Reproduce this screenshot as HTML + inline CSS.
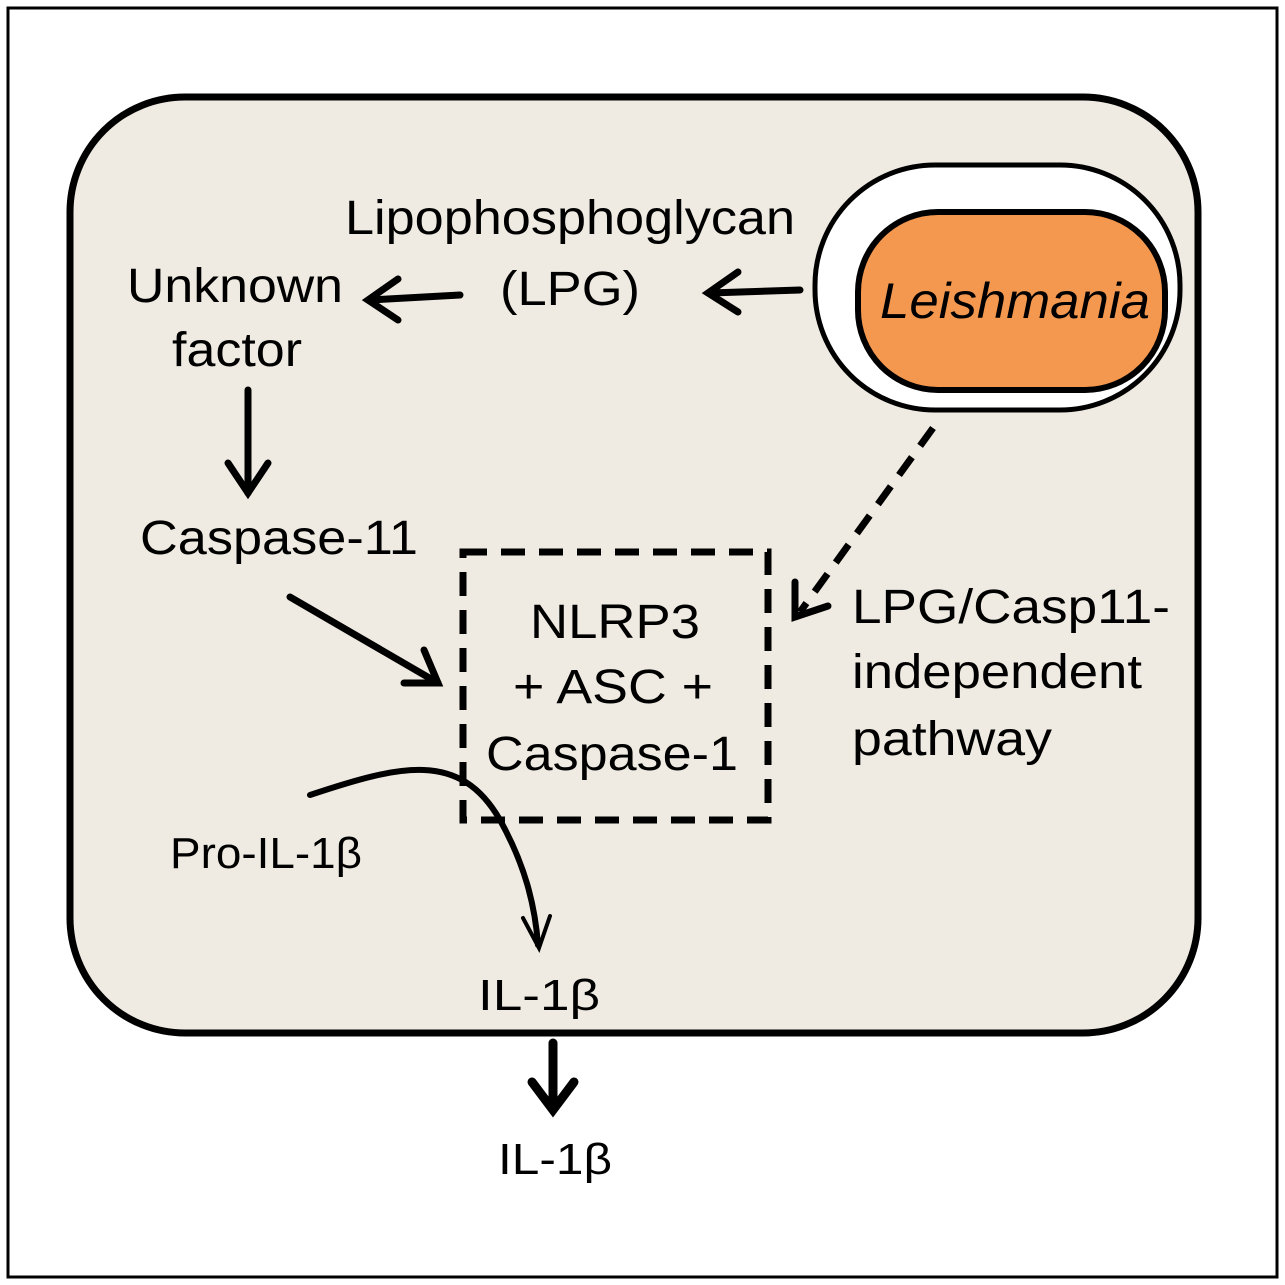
<!DOCTYPE html>
<html><head><style>
html,body{margin:0;padding:0;background:#fff;}
svg{display:block;}
text{font-family:"Liberation Sans",sans-serif;fill:#000;}
</style></head><body>
<svg width="1285" height="1285" viewBox="0 0 1285 1285" xmlns="http://www.w3.org/2000/svg">
<rect x="8" y="8" width="1269" height="1269" fill="#fff" stroke="#000" stroke-width="3"/>
<rect x="70" y="97" width="1128" height="936" rx="115" ry="115" fill="#efebe2" stroke="#000" stroke-width="7"/>
<rect x="815" y="165" width="365" height="245" rx="120" ry="120" fill="#fff" stroke="#000" stroke-width="5"/>
<rect x="858" y="212" width="307" height="178" rx="80" ry="80" fill="#f4984f" stroke="#000" stroke-width="6"/>
<text x="880" y="318" font-size="50" font-style="italic" textLength="270" lengthAdjust="spacingAndGlyphs">Leishmania</text>
<g font-size="48">
<text x="345" y="234" textLength="450" lengthAdjust="spacingAndGlyphs">Lipophosphoglycan</text>
<text x="500" y="305" textLength="140" lengthAdjust="spacingAndGlyphs">(LPG)</text>
<text x="127" y="302" textLength="216" lengthAdjust="spacingAndGlyphs">Unknown</text>
<text x="172" y="366" textLength="130" lengthAdjust="spacingAndGlyphs">factor</text>
<text x="140" y="554" textLength="278" lengthAdjust="spacingAndGlyphs">Caspase-11</text>
<text x="530" y="638" textLength="170" lengthAdjust="spacingAndGlyphs">NLRP3</text>
<text x="513" y="703" textLength="200" lengthAdjust="spacingAndGlyphs">+ ASC +</text>
<text x="486" y="770" textLength="252" lengthAdjust="spacingAndGlyphs">Caspase-1</text>
<text x="852" y="623" textLength="318" lengthAdjust="spacingAndGlyphs">LPG/Casp11-</text>
<text x="852" y="688" textLength="290" lengthAdjust="spacingAndGlyphs">independent</text>
<text x="852" y="755" textLength="200" lengthAdjust="spacingAndGlyphs">pathway</text>
</g>
<g font-size="44">
<text x="170" y="868" textLength="192" lengthAdjust="spacingAndGlyphs">Pro-IL-1β</text>
<text x="478" y="1010" textLength="122" lengthAdjust="spacingAndGlyphs">IL-1β</text>
<text x="498" y="1174" textLength="114" lengthAdjust="spacingAndGlyphs">IL-1β</text>
</g>
<g stroke="#000" stroke-width="7" fill="none" stroke-linecap="round">
<line x1="800" y1="290" x2="710" y2="293"/><path d="M738,272 L708,293 L738,312"/>
<line x1="460" y1="295" x2="370" y2="300"/><path d="M398,279 L368,300 L398,320"/>
<line x1="248" y1="390" x2="248" y2="493"/><path d="M228,463 L248,493 L268,463"/>
<line x1="290" y1="597" x2="438" y2="683"/><path d="M404,683 L438,683 L424,650"/>
<line x1="933" y1="428" x2="800" y2="612" stroke-dasharray="22,14" stroke-linecap="butt"/><path d="M795,582 L795,617 L828,606"/>
<rect x="463" y="552" width="305" height="268" stroke-dasharray="24,14" stroke-linecap="butt"/>
<path d="M310,795 C400,765 460,750 500,820 C525,865 535,905 538,945" stroke-width="6"/>
<path d="M523,918 L539,948 L550,916" stroke-width="4"/>
<line x1="553" y1="1043" x2="553" y2="1105" stroke-width="9"/><path d="M532,1082 L553,1110 L574,1082" stroke-width="9"/>
</g>
</svg>
</body></html>
